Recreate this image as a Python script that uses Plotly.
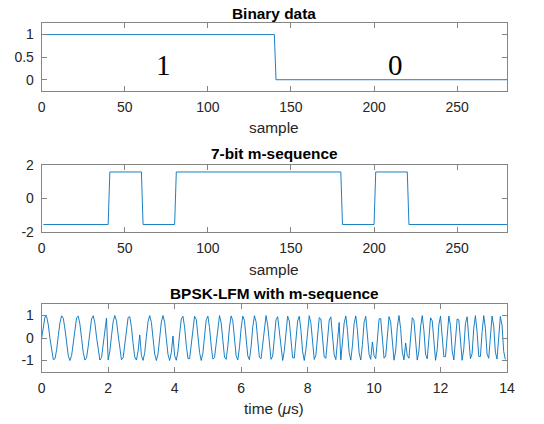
import numpy as np
import plotly.graph_objects as go

# ---- data ----
binary_bits = [1, 0]                 # data bits, one per m-sequence period
mseq_bits = [0, 0, 1, 0, 1, 1, 1]    # 7-bit m-sequence
samples_per_chip = 20
phase_level = np.pi / 2              # plotted chip level (rad)
fs_mhz = 20.0                        # sample rate (MHz)
f_start_mhz = 2.0                    # LFM start frequency
f_stop_mhz = 4.0                     # LFM stop frequency
bit_text = ["1", "0"]
bit_text_x = [73, 213]
bit_text_y = [0.33, 0.33]
sample_ticks = [0, 50, 100, 150, 200, 250]
time_ticks = [0, 2, 4, 6, 8, 10, 12, 14]
y1_ticks, y1_labels = [0, 0.5, 1], ["0", "0.5", "1"]
y2_ticks, y2_labels = [-2, 0, 2], ["-2", "0", "2"]
y3_ticks, y3_labels = [-1, 0, 1], ["-1", "0", "1"]

# ---- build signals ----
chips_per_bit = len(mseq_bits)
n_samples = len(binary_bits) * chips_per_bit * samples_per_chip
n = np.arange(1, n_samples + 1)
bit_idx = (n - 1) // (chips_per_bit * samples_per_chip)
chip_idx = ((n - 1) // samples_per_chip) % chips_per_bit
bits_wave = np.array(binary_bits)[bit_idx]
chip_sign = (2 * np.array(mseq_bits)[chip_idx] - 1) * (2 * bits_wave - 1)
mseq_wave = chip_sign * phase_level
t = (n - 1) / fs_mhz
T = n_samples / fs_mhz
k = (f_stop_mhz - f_start_mhz) / T
signal = np.cos(2 * np.pi * (f_start_mhz * t + 0.5 * k * t ** 2) + mseq_wave)

# ---- figure ----
W, H = 544, 424
def px_x(p): return p / W
def px_y(p): return 1 - p / H

line_color = "#0072BD"
axis_color = "#858585"
text_color = "#262626"
tick_font = dict(family="Liberation Sans, Arial", size=14, color=text_color)

fig = go.Figure()
for xs, ys, xa, ya in [(n, bits_wave, "x", "y"), (n, mseq_wave, "x2", "y2"), (t, signal, "x3", "y3")]:
    fig.add_trace(go.Scatter(x=xs, y=ys, mode="lines", hoverinfo="skip",
                             line=dict(color=line_color, width=0.9), xaxis=xa, yaxis=ya))

x_dom = [px_x(41.7), px_x(507)]
panels = [
    (23.3, 91.0),
    (164.8, 231.7),
    (304.3, 371.7),
]

def xax(rng, ticks, anchor):
    return dict(domain=x_dom, range=rng, tickvals=ticks, ticktext=[str(v) for v in ticks],
                ticks="inside", ticklen=5, tickcolor=axis_color, showline=True,
                linecolor=axis_color, linewidth=1, mirror="ticks", showgrid=False,
                zeroline=False, tickfont=tick_font, anchor=anchor, automargin=False,
                ticklabelstandoff=3)

def yax(dom_y, rng, ticks, labels, anchor):
    return dict(domain=[px_y(dom_y[1]), px_y(dom_y[0])], range=rng, tickvals=ticks,
                ticktext=labels, ticks="inside", ticklen=5, tickcolor=axis_color,
                showline=True, linecolor=axis_color, linewidth=1, mirror="ticks",
                showgrid=False, zeroline=False, tickfont=tick_font, anchor=anchor,
                automargin=False, ticklabelstandoff=4)

fig.update_layout(
    width=W, height=H, margin=dict(l=0, r=0, t=0, b=0, autoexpand=False),
    paper_bgcolor="white", plot_bgcolor="white", showlegend=False,
    xaxis=xax([0, 280], sample_ticks, "y"),
    yaxis=yax(panels[0], [-0.25, 1.25], y1_ticks, y1_labels, "x"),
    xaxis2=xax([0, 280], sample_ticks, "y2"),
    yaxis2=yax(panels[1], [-2, 2], y2_ticks, y2_labels, "x2"),
    xaxis3=xax([0, 14], time_ticks, "y3"),
    yaxis3=yax(panels[2], [-1.5, 1.5], y3_ticks, y3_labels, "x3"),
)

cx = (41.7 + 507) / 2
title_font = dict(family="Liberation Sans, Arial", size=15.4, color="black")
label_font = dict(family="Liberation Sans, Arial", size=15.4, color=text_color)
annots = [
    ("<b>Binary data</b>", 13, title_font),
    ("<b>7-bit m-sequence</b>", 153, title_font),
    ("<b>BPSK-LFM with m-sequence</b>", 293, title_font),
    ("sample", 127, label_font),
    ("sample", 269, label_font),
    ("time (<i>μ</i>s)", 408, label_font),
]
for txt, yp, f in annots:
    fig.add_annotation(text=txt, x=px_x(cx), y=px_y(yp), xref="paper", yref="paper",
                       xanchor="center", yanchor="middle", showarrow=False, font=f)

for txt, xv, yv in zip(bit_text, bit_text_x, bit_text_y):
    fig.add_annotation(text=txt, x=xv, y=yv, xref="x", yref="y", showarrow=False,
                       xanchor="center", yanchor="middle",
                       font=dict(family="Liberation Serif, Times New Roman", size=29, color="black"))

fig.write_html("out.html", config={"displayModeBar": False, "staticPlot": True},
               post_script="document.body.style.margin='0';document.body.style.overflow='hidden';")
